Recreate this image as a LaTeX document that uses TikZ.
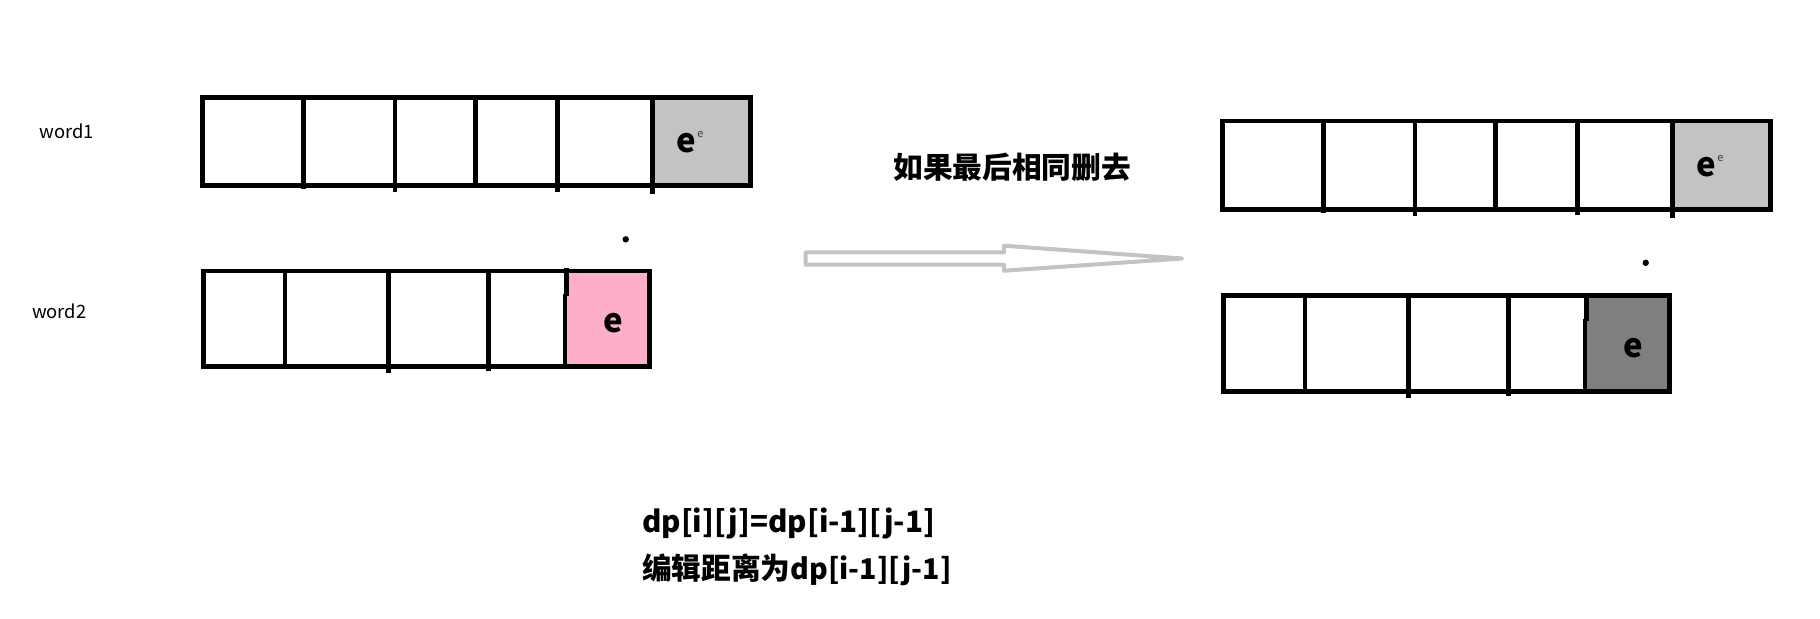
\documentclass[tikz,border=0pt]{standalone}
\usepackage{fontspec}
\setmainfont{Noto Sans CJK SC}
\definecolor{cellgray}{HTML}{C3C3C3}
\definecolor{cellpink}{HTML}{FFAEC9}
\definecolor{celldark}{HTML}{7F7F7F}
\definecolor{arrowgray}{HTML}{C3C3C3}
\tikzset{
  boxline/.style={line width=2.3pt, draw=black},
  letter/.style={inner sep=0pt, font=\fontsize{16.5}{18}\selectfont\bfseries},
  tinyletter/.style={inner sep=0pt, text=black!75, font=\fontsize{5.5}{6}\selectfont},
  label/.style={inner sep=0pt, anchor=west, font=\fontsize{9.2}{11}\selectfont},
  bigtext/.style={inner sep=0pt, anchor=west, font=\fontsize{14.8}{19}\selectfont\bfseries},
  dot/.style={fill=black}
}
\newcommand\drawrowA[2]{%
  \fill[#1] (652.5,97.5) rectangle (750.5,185.7);
  \draw[boxline] (202.5,97.5) rectangle (750.5,185.7);
  \draw[boxline] (303.3,97.5) -- (303.3,189);
  \draw[boxline] (395,97.5) -- (395,192);
  \draw[boxline] (475.7,97.5) -- (475.7,185.7);
  \draw[boxline] (557.7,97.5) -- (557.7,191.7);
  \draw[boxline] (652.5,97.5) -- (652.5,194);
  \node[letter] (#2e) at (686.7,143.3) {e};
  \node[tinyletter, anchor=west] (#2es) at (#2e.east |- 0,134.5) {e};
  \fill[dot] (625.7,239.3) circle (3.2);
}
\newcommand\drawrowB[2]{%
  \fill[#1] (566,271) rectangle (649.3,366.7);
  \draw[boxline] (203.7,271) rectangle (649.3,366.7);
  \draw[boxline] (285,271) -- (285,366.7);
  \draw[boxline] (388.3,273) -- (388.3,373);
  \draw[boxline] (488.3,271) -- (488.3,371);
  \draw[boxline] (566.7,268) -- (566.7,296);
  \draw[boxline] (565,294) -- (565,369);
  \node[letter] (#2e) at (613.3,323.3) {e};
}
\begin{document}
\begin{tikzpicture}[x=0.5pt,y=-0.5pt]
\useasboundingbox[fill=white] (0,0) rectangle (1820,618);

% left side
\node[label] (w1) at (39,131.7) {word1};
\node[label] (w2) at (31.7,311.7) {word2};
\drawrowA{cellgray}{A}
\drawrowB{cellpink}{B}

% right side
\begin{scope}[shift={(1020,23.5)}]
  \drawrowA{cellgray}{C}
\end{scope}
\begin{scope}[shift={(1020,24.5)}]
  \drawrowB{celldark}{D}
\end{scope}

% title
\node[bigtext, font=\fontsize{14.85}{18}\selectfont\bfseries] (title) at (893,167) {如果最后相同删去};

% hollow arrow
\coordinate (arrT) at (1182,258.5);
\draw[arrowgray, line width=2pt, line join=round]
  (805.7,252.3) -- (1004,252.3) -- (1004,245.7) -- (arrT)
  -- (1004,270.7) -- (1004,264.7) -- (805.7,264.7) -- cycle;

% bottom formulas
\node[bigtext] (f1) at (641.7,523.3) {dp[i][j]=dp[i-1][j-1]};
\node[bigtext] (f2) at (641.7,570) {{\fontsize{14.85}{18}\selectfont 编辑距离为}{\fontsize{14.3}{18}\selectfont dp[i-1][j-1]}};
\end{tikzpicture}
\end{document}
